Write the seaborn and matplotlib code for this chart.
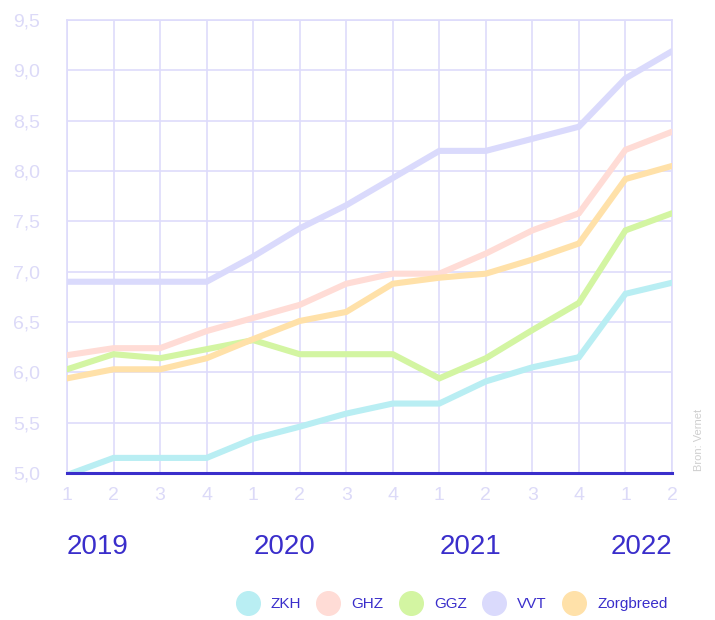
import matplotlib
matplotlib.use("Agg")
import matplotlib.pyplot as plt
from matplotlib.lines import Line2D
import seaborn as sns
import pandas as pd
import numpy as np

quarters = ["1", "2", "3", "4", "1", "2", "3", "4", "1", "2", "3", "4", "1", "2"]
years = ["2019", "2020", "2021", "2022"]
series_names = ["ZKH", "GHZ", "GGZ", "VVT", "Zorgbreed"]
zkh = [4.98, 5.15, 5.15, 5.15, 5.34, 5.46, 5.59, 5.69, 5.69, 5.91, 6.05, 6.15, 6.78, 6.89]
ghz = [6.17, 6.24, 6.24, 6.41, 6.54, 6.67, 6.88, 6.98, 6.98, 7.18, 7.41, 7.58, 8.21, 8.39]
ggz = [6.03, 6.18, 6.14, 6.23, 6.32, 6.18, 6.18, 6.18, 5.94, 6.14, 6.42, 6.69, 7.41, 7.58]
vvt = [6.90, 6.90, 6.90, 6.90, 7.15, 7.43, 7.66, 7.93, 8.20, 8.20, 8.32, 8.44, 8.92, 9.19]
zorgbreed = [5.94, 6.03, 6.03, 6.14, 6.33, 6.51, 6.60, 6.88, 6.94, 6.98, 7.12, 7.28, 7.92, 8.05]
yticks = [5.0, 5.5, 6.0, 6.5, 7.0, 7.5, 8.0, 8.5, 9.0, 9.5]

colors = ["#b9eef3", "#ffdcd6", "#d3f5a2", "#dadafc", "#ffe1a9"]
grid_c = "#dedcfb"
tick_c = "#dcdaf8"
dark = "#3a2ecb"

values = [zkh, ghz, ggz, vvt, zorgbreed]
rows = []
for name, vals in zip(series_names, values):
    for i, v in enumerate(vals):
        rows.append({"idx": i, "value": v, "serie": name})
df = pd.DataFrame(rows)

sns.set_style("white")
plt.rcParams["font.family"] = ["Liberation Sans", "DejaVu Sans"]

fig = plt.figure(figsize=(7.15, 6.2), dpi=100)
ax = fig.add_axes([67 / 715, 1 - 473 / 620, (672 - 67) / 715, (473 - 20) / 620])

sns.lineplot(data=df, x="idx", y="value", hue="serie", hue_order=series_names,
             palette=colors, linewidth=4.4, ax=ax, legend=False, zorder=3,
             solid_capstyle="round", solid_joinstyle="miter")

ax.set_xlim(0, len(quarters) - 1)
ax.set_ylim(5.0, 9.5)
ax.set_xticks(range(len(quarters)))
ax.set_xticklabels(quarters)
ax.set_yticks(yticks)
ax.set_yticklabels([f"{t:.1f}".replace(".", ",") for t in yticks])
ax.grid(True, color=grid_c, linewidth=1.2, zorder=0)
ax.set_axisbelow(True)
for s in ["left", "right", "top"]:
    ax.spines[s].set_color(grid_c)
    ax.spines[s].set_linewidth(1.2)
ax.spines["bottom"].set_color(dark)
ax.spines["bottom"].set_linewidth(2.2)
ax.spines["bottom"].set_zorder(5)
ax.tick_params(axis="both", length=0, colors=tick_c, labelsize=14)
ax.tick_params(axis="y", pad=39)
for lab in ax.get_yticklabels():
    lab.set_horizontalalignment("left")
ax.tick_params(axis="x", pad=10)
ax.set_xlabel("")
ax.set_ylabel("")

# year labels
year_pos = [0, 4, 8, 13]
aligns = ["left", "left", "left", "right"]
for y, p, a in zip(years, year_pos, aligns):
    ax.text(p, -0.163, y, transform=ax.get_xaxis_transform(), ha=a, va="center",
            fontsize=20, color=dark)

# source
fig.text(699 / 715, 1 - 440 / 620, "Bron: Vernet", rotation=90, ha="center", va="center",
         fontsize=8, color="#cfcfcf")

handles = [Line2D([0], [0], marker="o", linestyle="", markersize=17,
                  markerfacecolor=c, markeredgecolor=c) for c in colors]
leg = fig.legend(handles, series_names, loc="center", bbox_to_anchor=(453 / 715, 1 - 604 / 620),
                 ncol=5, frameon=False, fontsize=11, handletextpad=0.9, columnspacing=1.2,
                 handlelength=1.2)
for t in leg.get_texts():
    t.set_color(dark)

fig.savefig("out.png", dpi=100)
